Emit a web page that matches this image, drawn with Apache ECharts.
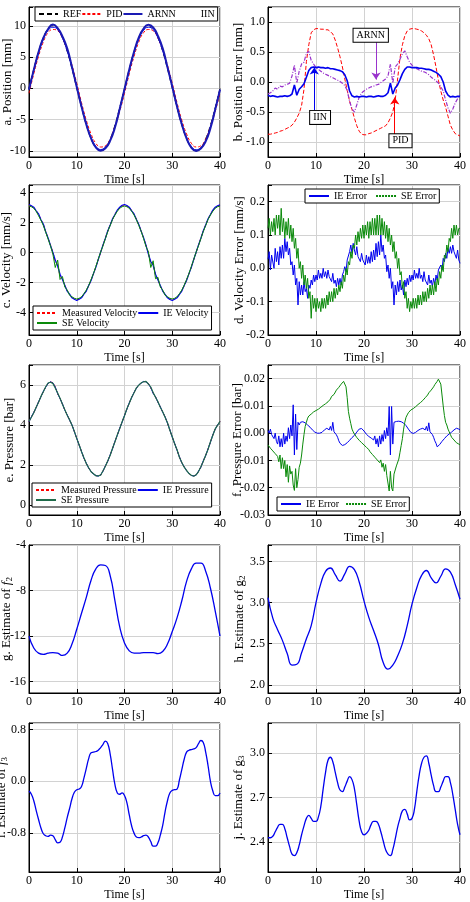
<!DOCTYPE html>
<html lang="en">
<head>
	<meta charset="UTF-8">
	<title>Estimation results</title>
</head>
<style>
	body{ margin: 0; background: #fff; }
	#main{ width: 470px; height: 902px; }
</style>
<body>
	<div id="main"></div>
	<script src="https://cdn.jsdelivr.net/npm/echarts@6.0.0/dist/echarts.min.js"></script>
	<script>
	// a. position, sampled every 1 s
	var posRef = [0, 3.09, 5.88, 8.09, 9.51, 10, 9.51, 8.09, 5.88, 3.09, 0, -3.09, -5.88, -8.09, -9.51, -10, -9.51, -8.09, -5.88, -3.09, 0, 3.09, 5.88, 8.09, 9.51, 10, 9.51, 8.09, 5.88, 3.09, 0, -3.09, -5.88, -8.09, -9.51, -10, -9.51, -8.09, -5.88, -3.09, 0];
	var posPid = [-0.8, 2.3, 5.1, 7.4, 8.9, 9.4, 9.2, 8.0, 6.1, 3.7, 0.8, -2.3, -5.1, -7.3, -8.8, -9.4, -9.2, -8.1, -6.1, -3.7, -0.8, 2.3, 5.1, 7.4, 8.9, 9.4, 9.2, 8.0, 6.1, 3.7, 0.8, -2.3, -5.1, -7.3, -8.8, -9.4, -9.2, -8.1, -6.1, -3.7, -0.8];
	var posArnn = [-0.2, 2.94, 5.8, 8.04, 9.48, 10.2, 9.61, 8.31, 6.38, 3.39, 0.2, -2.94, -5.78, -8.01, -9.48, -10, -9.61, -8.39, -6.28, -3.29, -0.14, 3.0, 5.84, 8.12, 9.55, 10.15, 9.75, 8.39, 6.38, 3.37, 0.28, -2.92, -5.76, -8.03, -9.51, -10.03, -9.63, -8.5, -6.38, -3.4, -0.22];
	var posIin = [-0.24, 2.85, 5.64, 7.85, 9.27, 9.76, 9.37, 8.03, 5.96, 3.31, 0.24, -2.85, -5.64, -7.85, -9.28, -9.8, -9.4, -8.29, -6.12, -3.33, -0.24, 2.85, 5.64, 7.85, 9.27, 9.76, 9.4, 8.06, 5.99, 3.33, 0.24, -2.85, -5.64, -7.86, -9.3, -9.84, -9.49, -8.33, -6.13, -3.33, -0.24];

	// b. position error, every 0.5 s
	var errPid = [-0.87, -0.87, -0.86, -0.85, -0.84, -0.82, -0.81, -0.79, -0.77, -0.75,
		-0.72, -0.67, -0.6, -0.52, -0.39, -0.12, 0.34, 0.62, 0.82, 0.87,
		0.89, 0.89, 0.88, 0.88, 0.87, 0.87, 0.84, 0.8, 0.7, 0.57,
		0.42, 0.25, 0.05, -0.14, -0.32, -0.46, -0.6, -0.73, -0.82, -0.87,
		-0.88, -0.88, -0.86, -0.85, -0.83, -0.81, -0.79, -0.77, -0.75, -0.73,
		-0.68, -0.6, -0.5, -0.3, 0.05, 0.4, 0.62, 0.77, 0.85, 0.88,
		0.89, 0.89, 0.88, 0.87, 0.85, 0.82, 0.78, 0.72, 0.62, 0.45,
		0.25, 0.03, -0.15, -0.3, -0.42, -0.57, -0.72, -0.8, -0.86, -0.88,
		-0.9];
	var errArnn = [-0.2, -0.18, -0.15, -0.1, -0.12, -0.07, -0.08, -0.05, -0.04, -0.02,
		0.1, 0.28, -0.02, 0.18, 0.3, 0.33, 0.48, 0.51, 0.36, 0.3,
		0.24, 0.21, 0.18, 0.15, 0.13, 0.11, 0.09, 0.07, 0.05, 0.03,
		0.01, -0.02, -0.06, -0.14, -0.32, -0.45, -0.5, -0.38, -0.25, -0.18,
		-0.15, -0.12, -0.1, -0.08, -0.07, -0.05, -0.04, -0.01, 0.02, 0.05,
		0.1, 0.3, -0.02, 0.25, 0.3, 0.38, 0.47, 0.52, 0.42, 0.33,
		0.28, 0.24, 0.22, 0.2, 0.18, 0.17, 0.15, 0.12, 0.08, 0.05,
		0.02, -0.02, -0.08, -0.15, -0.3, -0.43, -0.52, -0.45, -0.35, -0.28,
		-0.22];
	var errIin = [-0.22, -0.24, -0.23, -0.24, -0.25, -0.24, -0.24, -0.23, -0.24, -0.23,
		-0.2, -0.05, -0.22, -0.12, -0.08, -0.03, 0.08, 0.19, 0.24, 0.25,
		0.24, 0.25, 0.24, 0.24, 0.23, 0.24, 0.22, 0.22, 0.21, 0.2,
		0.19, 0.17, 0.12, 0.02, -0.15, -0.23, -0.25, -0.24, -0.25, -0.24,
		-0.24, -0.25, -0.24, -0.24, -0.25, -0.24, -0.23, -0.24, -0.24, -0.22,
		-0.18, -0.02, -0.2, -0.1, -0.05, 0.04, 0.14, 0.21, 0.25, 0.25,
		0.24, 0.24, 0.24, 0.23, 0.23, 0.22, 0.21, 0.21, 0.2, 0.18,
		0.16, 0.13, 0.09, 0.0, -0.15, -0.22, -0.25, -0.24, -0.25, -0.24,
		-0.24];

	// c. velocity, every 0.5 s
	var velMeas = [3.15, 3.1, 3.0, 2.8, 2.55, 2.2, 1.88, 1.4, 0.95, 0.5, 0.02, -0.6, -0.8, -1.6, -1.75, -2.2, -2.55, -2.8, -3.0, -3.1,
		-3.15, -3.1, -3.0, -2.8, -2.55, -2.22, -1.85, -1.43, -0.97, -0.49, 0, 0.49, 0.97, 1.43, 1.85, 2.23, 2.55, 2.81, 3.0, 3.11,
		3.15, 3.1, 3.0, 2.8, 2.55, 2.22, 1.85, 1.43, 0.97, 0.5, -0.05, -0.7, -0.75, -1.5, -1.8, -2.23, -2.55, -2.81, -3.0, -3.1,
		-3.15, -3.1, -3.0, -2.8, -2.55, -2.22, -1.85, -1.43, -0.97, -0.49, 0, 0.49, 0.97, 1.43, 1.85, 2.23, 2.55, 2.81, 3.0, 3.1,
		3.15];
	var velIE = [3.2, 3.12, 3.02, 2.78, 2.58, 2.18, 1.9, 1.38, 0.97, 0.47, 0.0, -0.5, -0.9, -1.45, -1.8, -2.18, -2.58, -2.78, -3.02, -3.12,
		-3.2, -3.12, -3.02, -2.78, -2.57, -2.2, -1.87, -1.41, -0.99, -0.47, 0.02, 0.51, 0.95, 1.45, 1.83, 2.25, 2.53, 2.83, 3.02, 3.15,
		3.2, 3.13, 3.02, 2.78, 2.57, 2.2, 1.87, 1.41, 0.99, 0.48, -0.1, -0.6, -0.85, -1.45, -1.83, -2.2, -2.57, -2.79, -3.02, -3.13,
		-3.2, -3.12, -3.02, -2.79, -2.57, -2.2, -1.87, -1.41, -0.99, -0.47, 0.02, 0.51, 0.95, 1.45, 1.83, 2.25, 2.53, 2.83, 3.02, 3.12,
		3.18];
	var velSE = [3.1, 3.05, 2.95, 2.75, 2.45, 2.15, 1.8, 1.35, 0.9, 0.45, -0.1, -1.0, -0.5, -1.8, -1.6, -2.3, -2.5, -2.85, -2.95, -3.05,
		-3.1, -3.05, -2.95, -2.75, -2.5, -2.2, -1.8, -1.4, -0.93, -0.45, 0.03, 0.45, 0.93, 1.4, 1.8, 2.2, 2.5, 2.75, 2.95, 3.05,
		3.1, 3.05, 2.95, 2.75, 2.5, 2.18, 1.8, 1.4, 0.92, 0.4, 0.05, -1.0, -0.55, -1.75, -1.65, -2.3, -2.5, -2.85, -2.95, -3.05,
		-3.1, -3.05, -2.95, -2.75, -2.5, -2.18, -1.8, -1.4, -0.93, -0.45, 0.03, 0.45, 0.93, 1.4, 1.8, 2.2, 2.5, 2.75, 2.95, 3.05,
		3.1];

	// d. velocity error, every 0.25 s (one row per second)
	var velErrIE = [0.027, 0.05, -0.005, 0.04, 0.035, 0.0, 0.06, 0.02, 0.05, 0.01, 0.065, 0.03, 0.07, 0.03, 0.09, 0.05,
		0.08, 0.04, 0.06, 0.01, 0.02, -0.02, 0.01, -0.05, -0.03, -0.11, -0.04, -0.08, -0.05, -0.08, -0.04, -0.07,
		-0.06, -0.09, -0.05, -0.06, -0.035, -0.05, -0.02, -0.04, -0.02, -0.035, -0.005, -0.03, -0.015, -0.03, 0.0, -0.025,
		-0.01, -0.03, -0.005, -0.025, -0.02, -0.04, -0.015, -0.045, -0.035, -0.055, -0.03, -0.05, -0.03, -0.05, -0.02, -0.01,
		0.005, -0.01, 0.025, 0.03, 0.05, 0.07, 0.045, 0.075, 0.055, 0.04, 0.065, 0.035, 0.04, 0.02, 0.045, 0.025,
		0.03, 0.01, 0.04, 0.015, 0.035, 0.015, 0.05, 0.02, 0.055, 0.025, 0.075, 0.035, 0.08, 0.04, 0.1, 0.05,
		0.07, 0.03, 0.04, -0.01, 0.01, -0.03, 0.0, -0.06, -0.04, -0.11, -0.05, -0.08, -0.04, -0.07, -0.035, -0.065,
		-0.05, -0.08, -0.035, -0.055, -0.03, -0.05, -0.02, -0.04, -0.02, -0.035, -0.005, -0.03, -0.015, -0.03, 0.0, -0.03,
		-0.02, -0.04, -0.01, -0.035, -0.03, -0.05, -0.02, -0.045, -0.035, -0.055, -0.03, -0.05, -0.02, -0.035, -0.005, 0.0,
		0.01, -0.005, 0.03, 0.02, 0.045, 0.03, 0.06, 0.045, 0.065, 0.045, 0.07, 0.05, 0.05, 0.03, 0.055, 0.025,
		0.015];
	var velErrSE = [0.12, 0.15, 0.1, 0.14, 0.11, 0.15, 0.1, 0.16, 0.12, 0.16, 0.1, 0.18, 0.11, 0.15, 0.09, 0.14,
		0.1, 0.15, 0.09, 0.13, 0.08, 0.12, 0.06, 0.09, 0.03, 0.06, 0.0, 0.02, -0.03, 0.01, -0.05, -0.02,
		-0.06, -0.03, -0.09, -0.07, -0.15, -0.08, -0.12, -0.09, -0.13, -0.09, -0.12, -0.1, -0.13, -0.09, -0.12, -0.09,
		-0.12, -0.08, -0.11, -0.07, -0.1, -0.07, -0.1, -0.06, -0.09, -0.06, -0.08, -0.05, -0.07, -0.04, -0.06, -0.02,
		-0.04, 0.0, -0.02, 0.02, 0.01, 0.05, 0.03, 0.07, 0.06, 0.1, 0.07, 0.11, 0.08, 0.12, 0.09, 0.13,
		0.09, 0.13, 0.1, 0.14, 0.09, 0.14, 0.1, 0.15, 0.1, 0.15, 0.1, 0.16, 0.1, 0.16, 0.1, 0.15,
		0.1, 0.14, 0.09, 0.13, 0.08, 0.12, 0.07, 0.1, 0.05, 0.08, 0.03, 0.05, 0.0, 0.03, -0.02, -0.01,
		-0.06, -0.04, -0.09, -0.07, -0.12, -0.09, -0.13, -0.1, -0.12, -0.09, -0.12, -0.09, -0.12, -0.08, -0.11, -0.08,
		-0.11, -0.07, -0.1, -0.07, -0.1, -0.06, -0.09, -0.05, -0.08, -0.05, -0.08, -0.04, -0.07, -0.03, -0.05, -0.01,
		-0.03, 0.01, -0.01, 0.04, 0.03, 0.07, 0.05, 0.09, 0.08, 0.12, 0.09, 0.13, 0.1, 0.13, 0.1, 0.12,
		0.12];

	// e. pressure, every 0.5 s
	var presMeas = [4.17, 4.4, 4.62, 4.88, 5.15, 5.42, 5.67, 5.9, 6.08, 6.15, 6.12, 5.92, 5.55, 5.33, 5.05, 4.75, 4.5, 4.25, 4.0, 3.67,
		3.33, 3.0, 2.67, 2.35, 2.08, 1.85, 1.67, 1.55, 1.47, 1.45, 1.5, 1.7, 1.95, 2.2, 2.5, 2.83, 3.17, 3.5, 3.83, 4.15,
		4.47, 4.8, 5.1, 5.38, 5.62, 5.85, 6.0, 6.1, 6.17, 6.17, 6.08, 5.85, 5.6, 5.4, 5.15, 4.9, 4.65, 4.4, 4.1, 3.75,
		3.4, 3.07, 2.75, 2.4, 2.12, 1.9, 1.72, 1.58, 1.48, 1.45, 1.5, 1.68, 1.9, 2.2, 2.48, 2.8, 3.15, 3.5, 3.8, 4.0,
		4.17];
	var presIE = [4.16, 4.41, 4.63, 4.87, 5.16, 5.41, 5.68, 5.89, 6.08, 6.16, 6.1, 5.9, 5.57, 5.32, 5.06, 4.74, 4.51, 4.24, 4.01, 3.66,
		3.34, 2.99, 2.68, 2.34, 2.09, 1.84, 1.68, 1.54, 1.48, 1.44, 1.51, 1.69, 1.96, 2.19, 2.51, 2.82, 3.18, 3.49, 3.84, 4.14,
		4.48, 4.79, 5.11, 5.37, 5.63, 5.84, 6.01, 6.09, 6.18, 6.16, 6.06, 5.87, 5.58, 5.41, 5.14, 4.91, 4.64, 4.41, 4.09, 3.76,
		3.39, 3.08, 2.74, 2.41, 2.11, 1.91, 1.71, 1.59, 1.47, 1.46, 1.49, 1.69, 1.89, 2.21, 2.47, 2.81, 3.14, 3.51, 3.79, 4.01,
		4.16];
	var presSE = [4.18, 4.39, 4.61, 4.89, 5.14, 5.43, 5.66, 5.91, 6.1, 6.14, 6.08, 5.85, 5.6, 5.34, 5.04, 4.76, 4.49, 4.26, 3.99, 3.68,
		3.32, 3.01, 2.66, 2.36, 2.07, 1.86, 1.66, 1.56, 1.46, 1.46, 1.49, 1.71, 1.94, 2.21, 2.49, 2.84, 3.16, 3.51, 3.82, 4.16,
		4.46, 4.81, 5.09, 5.39, 5.61, 5.86, 5.99, 6.11, 6.16, 6.18, 6.05, 5.9, 5.62, 5.39, 5.16, 4.89, 4.66, 4.39, 4.11, 3.74,
		3.41, 3.06, 2.76, 2.39, 2.13, 1.89, 1.73, 1.57, 1.49, 1.44, 1.51, 1.67, 1.91, 2.19, 2.49, 2.79, 3.16, 3.49, 3.81, 3.99,
		4.18];

	// f. pressure error, every 0.25 s
	var presErrIE = [0.001, 0.0, 0.0015, -0.0005, -0.001, -0.002, 0.0, -0.003, -0.004, -0.001, -0.005, -0.002, -0.005, 0.0, -0.004, -0.001,
		-0.003, 0.002, -0.002, 0.003, -0.001, 0.0104, -0.008, 0.007, -0.006, 0.004, 0.003, 0.004, 0.004, 0.0042, 0.004, 0.0038,
		0.0035, 0.003, 0.0027, 0.0022, 0.0018, 0.0012, 0.0008, 0.0004, 0.0002, 0.0, 0.0, 0.0, 0.0, 0.0003, 0.0007, 0.0012,
		0.0015, 0.0018, 0.002, 0.0012, 0.0025, 0.001, 0.004, 0.0005, 0.0002, -0.0006, -0.0015, -0.0028, -0.0037, -0.0042, -0.0045, -0.0044,
		-0.0042, -0.004, -0.0035, -0.003, -0.0026, -0.0022, -0.0016, -0.0012, -0.0008, -0.0002, 0.0004, 0.001, 0.0015, 0.0018, 0.0017, 0.0014,
		0.0008, 0.0002, -0.0004, -0.001, -0.0012, -0.0015, -0.0018, -0.0022, -0.0025, -0.001, -0.004, -0.002, -0.005, -0.001, -0.004, -0.0005,
		-0.003, 0.001, -0.002, 0.002, -0.001, 0.0098, -0.008, 0.0098, -0.004, 0.004, 0.0035, 0.0043, 0.0043, 0.0044, 0.0043, 0.0042,
		0.004, 0.0037, 0.0033, 0.0028, 0.0022, 0.0015, 0.0008, 0.0003, 0.0, -0.0001, 0.0, 0.0003, 0.0006, 0.001, 0.0013, 0.0015,
		0.0016, 0.0018, 0.002, 0.0012, 0.0025, 0.0008, 0.0038, 0.0005, 0.0006, -0.0005, -0.0015, -0.0028, -0.0037, -0.005, -0.0048, -0.0042,
		-0.0036, -0.003, -0.0025, -0.002, -0.0015, -0.001, -0.0006, -0.0003, 0.0, 0.0004, 0.0008, 0.0012, 0.0016, 0.0018, 0.0017, 0.0015,
		0.0012];
	var presErrSE = [-0.0043, -0.005, -0.0055, -0.006, -0.0065, -0.007, -0.0075, -0.008, -0.0085, -0.0105, -0.008, -0.013, -0.009, -0.013, -0.01, -0.016,
		-0.0115, -0.018, -0.012, -0.015, -0.014, -0.019, -0.021, -0.013, -0.02, -0.017, -0.0125, -0.011, -0.008, -0.004, -0.0005, 0.0025,
		0.004, 0.0055, 0.0063, 0.0067, 0.007, 0.0075, 0.0078, 0.008, 0.0083, 0.0086, 0.0088, 0.009, 0.0095, 0.0098, 0.0102, 0.0104,
		0.0108, 0.011, 0.0115, 0.0122, 0.0125, 0.0135, 0.013, 0.0142, 0.0148, 0.0158, 0.016, 0.0168, 0.0172, 0.018, 0.0186, 0.019,
		0.0192, 0.017, 0.013, 0.008, 0.0055, 0.0035, 0.0015, 0.0005, -0.0003, -0.001, -0.0016, -0.0022, -0.0026, -0.003, -0.0035, -0.004,
		-0.0043, -0.0048, -0.0052, -0.0058, -0.006, -0.0068, -0.007, -0.0078, -0.008, -0.0088, -0.009, -0.0098, -0.0092, -0.0108, -0.0098, -0.0125,
		-0.011, -0.014, -0.0115, -0.0155, -0.016, -0.0212, -0.014, -0.02, -0.0212, -0.015, -0.0135, -0.012, -0.0116, -0.0095, -0.007, -0.0045,
		-0.002, 0.0015, 0.004, 0.0058, 0.0067, 0.0075, 0.008, 0.0085, 0.0088, 0.009, 0.0093, 0.0097, 0.01, 0.0105, 0.0108, 0.0112,
		0.0115, 0.012, 0.0125, 0.013, 0.0135, 0.014, 0.0148, 0.0152, 0.0158, 0.0165, 0.017, 0.0178, 0.0184, 0.019, 0.0198, 0.0202,
		0.018, 0.014, 0.01, 0.0065, 0.004, 0.003, 0.0015, 0.0005, -0.0005, -0.0015, -0.002, -0.0025, -0.003, -0.0035, -0.0037, -0.004,
		-0.0043];

	// g, h every 1 s; i, j every 0.5 s
	var estF2 = [-12, -13.05, -13.5, -13.6, -13.5, -13.45, -13.5, -13.7, -13.5, -12.7, -11.4, -10.0, -8.6, -7.1, -6.1, -5.75, -5.8, -6.7, -8.9, -11.2,
		-12.6, -13.3, -13.5, -13.5, -13.45, -13.45, -13.45, -13.55, -13.35, -12.7, -11.6, -10.4, -8.9, -7.2, -6.1, -5.6, -5.6, -6.3, -7.8, -9.8, -12];
	var estG2 = [3.06, 2.81, 2.67, 2.54, 2.38, 2.24, 2.25, 2.39, 2.56, 2.72, 3.0, 3.23, 3.38, 3.42, 3.34, 3.26, 3.35, 3.44, 3.4, 3.25,
		3.02, 2.82, 2.66, 2.49, 2.27, 2.19, 2.24, 2.35, 2.5, 2.72, 2.98, 3.18, 3.33, 3.39, 3.3, 3.24, 3.32, 3.41, 3.37, 3.22, 3.04];
	var estF3 = [-0.15, -0.2, -0.3, -0.45, -0.59, -0.72, -0.81, -0.84, -0.85, -0.83,
		-0.84, -0.9, -0.95, -0.94, -0.86, -0.72, -0.56, -0.42, -0.27, -0.17,
		-0.13, -0.12, -0.08, 0.05, 0.2, 0.35, 0.44, 0.45, 0.46, 0.48,
		0.52, 0.57, 0.62, 0.58, 0.42, 0.18, -0.05, -0.18, -0.2, -0.18,
		-0.22, -0.33, -0.52, -0.69, -0.8, -0.86, -0.87, -0.86, -0.84, -0.83,
		-0.86, -0.93, -1.0, -1.0, -0.95, -0.83, -0.68, -0.47, -0.3, -0.18,
		-0.14, -0.13, -0.12, 0.02, 0.18, 0.34, 0.45, 0.48, 0.49, 0.5,
		0.52, 0.58, 0.63, 0.6, 0.45, 0.24, 0.0, -0.15, -0.22, -0.22,
		-0.18];
	var estG3 = [2.43, 2.43, 2.44, 2.47, 2.5, 2.52, 2.52, 2.49, 2.43, 2.37,
		2.32, 2.31, 2.33, 2.38, 2.45, 2.51, 2.56, 2.58, 2.56, 2.54,
		2.54, 2.57, 2.64, 2.76, 2.87, 2.95, 2.97, 2.94, 2.87, 2.8,
		2.75, 2.74, 2.77, 2.81, 2.84, 2.82, 2.76, 2.65, 2.54, 2.47,
		2.45, 2.46, 2.48, 2.52, 2.54, 2.54, 2.52, 2.47, 2.41, 2.35,
		2.32, 2.31, 2.35, 2.42, 2.5, 2.56, 2.61, 2.62, 2.59, 2.55,
		2.56, 2.62, 2.74, 2.85, 2.93, 2.97, 2.98, 2.93, 2.85, 2.78,
		2.74, 2.74, 2.77, 2.81, 2.84, 2.84, 2.8, 2.72, 2.62, 2.52,
		2.45];

	// text boxes and arrows of panel b: [label, x, y] and [x, yFrom, yTo]
	var boxNotes = [['ARNN', 21.4, 0.78], ['IIN', 10.85, -0.59], ['PID', 27.6, -0.98]];
	var arrowNotes = [[22.5, 0.66, 0.04], [9.65, -0.51, 0.24], [26.4, -0.87, -0.26]];

	var FONT = "'Liberation Serif','Times New Roman',serif";
	var myChart = echarts.init(document.getElementById('main'));

	function pts(vals, step) {
		return vals.map(function (v, i) { return [+(i * step).toFixed(2), v]; });
	}

	// panel layout: column, row, y range, tick step, decimals, y name, name gap
	var colLeft = [29, 268], colWidth = [191, 192];
	var rowTop = [7, 185, 365, 545, 723], rowHeight = [150, 150, 150, 148, 149];
	var panels = [
		{c: 0, r: 0, min: -11, max: 13, iv: 5, dec: 0, name: 'a. Position [mm]', gap: 15},
		{c: 1, r: 0, min: -1.25, max: 1.25, iv: 0.5, dec: 1, name: 'b. Position Error [mm]', gap: 23},
		{c: 0, r: 1, min: -5.5, max: 4.5, iv: 2, dec: 0, name: 'c. Velocity [mm/s]', gap: 16},
		{c: 1, r: 1, min: -0.2, max: 0.25, iv: 0.1, dec: 1, name: 'd. Velocity Error [mm/s]', gap: 22},
		{c: 0, r: 2, min: -0.5, max: 7, iv: 2, dec: 0, name: 'e. Pressure [bar]', gap: 13},
		{c: 1, r: 2, min: -0.03, max: 0.025, iv: 0.01, dec: 2, name: 'f. Pressure Error [bar]', gap: 24},
		{c: 0, r: 3, min: -17, max: -4, iv: 4, dec: 0, name: 'g. Estimate of {it|f}{sub|2}', gap: 15},
		{c: 1, r: 3, min: 1.9, max: 3.7, iv: 0.5, dec: 1, name: 'h. Estimate of g{sub|2}', gap: 21},
		{c: 0, r: 4, min: -1.4, max: 0.9, iv: 0.8, dec: 1, name: 'i. Estimate of {it|f}{sub|3}', gap: 20},
		{c: 1, r: 4, min: 2.2, max: 3.2, iv: 0.3, dec: 1, name: 'j. Estimate of g{sub|3}', gap: 22}
	];

	var grids = [], xAxes = [], yAxes = [];
	panels.forEach(function (p, i) {
		grids.push({
			left: colLeft[p.c], top: rowTop[p.r], width: colWidth[p.c], height: rowHeight[p.r],
			show: true, borderColor: '#000', borderWidth: 1, containLabel: false, outerBoundsMode: 'none'
		});
		xAxes.push({
			type: 'value', gridIndex: i, min: 0, max: 40, interval: 10,
			name: 'Time [s]', nameLocation: 'middle', nameGap: 17, nameMoveOverlap: false,
			nameTextStyle: {fontFamily: FONT, fontSize: 12, color: '#000'},
			axisLine: {onZero: false, lineStyle: {color: '#000'}},
			axisTick: {inside: true, length: 4, lineStyle: {color: '#000'}},
			axisLabel: {fontFamily: FONT, fontSize: 12, color: '#000', margin: 3, hideOverlap: false},
			splitLine: {lineStyle: {color: '#d2d2d2'}}
		});
		yAxes.push({
			type: 'value', gridIndex: i, min: p.min, max: p.max,
			// fixed step but ticks still on multiples of it
			minInterval: p.iv, maxInterval: p.iv,
			name: p.name, nameLocation: 'middle', nameGap: p.gap, nameMoveOverlap: false,
			nameTextStyle: {
				fontFamily: FONT, fontSize: 13, color: '#000',
				rich: {
					it: {fontFamily: FONT, fontSize: 13, fontStyle: 'italic', color: '#000'},
					sub: {fontFamily: FONT, fontSize: 9, color: '#000', padding: [6, 0, 0, 0]}
				}
			},
			axisLine: {onZero: false, lineStyle: {color: '#000'}},
			axisTick: {inside: true, length: 4, lineStyle: {color: '#000'}},
			axisLabel: {
				fontFamily: FONT, fontSize: 12, color: '#000', margin: 3, hideOverlap: false,
				formatter: function (v) {
					var k = v / p.iv;
					if (Math.abs(k - Math.round(k)) > 1e-6) return '';
					return (Math.round(k) * p.iv).toFixed(p.dec);
				}
			},
			splitLine: {lineStyle: {color: '#d2d2d2'}}
		});
	});

	function line(name, g, data, color, width, type, smooth) {
		return {
			type: 'line', name: name, xAxisIndex: g, yAxisIndex: g, data: data,
			symbol: 'none', smooth: !!smooth, animation: false,
			itemStyle: {color: color},
			lineStyle: {color: color, width: width, type: type || 'solid'}
		};
	}

	var BLUE = '#0000ee', GREEN = '#0a8a0a', RED = '#ff0000', PURPLE = '#9933cc';

	var series = [
		line('REF', 0, pts(posRef, 1), '#000', 1, [5, 3], true),
		line('PID', 0, pts(posPid, 1), RED, 1, [3, 2], true),
		line('IIN', 0, pts(posIin, 1), BLUE, 1, 'solid', true),
		line('ARNN', 0, pts(posArnn, 1), '#1a1ab4', 2, 'solid', true),

		line('PID err', 1, pts(errPid, 0.5), RED, 1, [4, 2]),
		line('ARNN err', 1, pts(errArnn, 0.5), PURPLE, 1.2, [4, 1.5, 1, 1.5]),
		line('IIN err', 1, pts(errIin, 0.5), BLUE, 1.6),

		line('Measured Velocity', 2, pts(velMeas, 0.5), RED, 1, [3, 2]),
		line('IE Velocity', 2, pts(velIE, 0.5), BLUE, 1.2),
		line('SE Velocity', 2, pts(velSE, 0.5), GREEN, 1),

		line('IE Error', 3, pts(velErrIE, 0.25), BLUE, 1),
		line('SE Error', 3, pts(velErrSE, 0.25), GREEN, 1),

		line('Measured Pressure', 4, pts(presMeas, 0.5), RED, 1, [3, 2]),
		line('IE Pressure', 4, pts(presIE, 0.5), BLUE, 1),
		line('SE Pressure', 4, pts(presSE, 0.5), '#1f6b4a', 1.2),

		line('IE Error', 5, pts(presErrIE, 0.25), BLUE, 1),
		line('SE Error', 5, pts(presErrSE, 0.25), GREEN, 1),

		line('f2', 6, pts(estF2, 1), BLUE, 1.3, 'solid', true),
		line('g2', 7, pts(estG2, 1), BLUE, 1.3, 'solid', true),
		line('f3', 8, pts(estF3, 0.5), BLUE, 1.3, 'solid', true),
		line('g3', 9, pts(estG3, 0.5), BLUE, 1.3, 'solid', true)
	];

	// annotations of panel b, one per series
	var noteColor = [PURPLE, BLUE, RED];
	var noteSeries = [5, 6, 4];
	boxNotes.forEach(function (n, k) {
		var s = series[noteSeries[k]];
		var a = arrowNotes[k];
		s.markLine = {
			silent: true, symbol: ['none', 'arrow'], symbolSize: 7, animation: false,
			label: {show: false},
			lineStyle: {color: noteColor[k], width: 1, type: 'solid'},
			data: [[{coord: [a[0], a[1]]}, {coord: [a[0], a[2]]}]]
		};
		s.markPoint = {
			silent: true, symbol: 'rect', symbolSize: 1, animation: false,
			itemStyle: {color: 'rgba(0,0,0,0)'},
			label: {
				show: true, position: 'inside', formatter: n[0],
				fontFamily: FONT, fontSize: 10, color: '#000',
				backgroundColor: '#fff', borderColor: '#000', borderWidth: 1, padding: [2, 3, 1, 3]
			},
			data: [{coord: [n[1], n[2]]}]
		};
	});

	function legend(left, top, width, data, gap, iw) {
		return {
			left: left, top: top, width: width, orient: 'horizontal',
			padding: [2, 3], itemGap: gap, itemWidth: iw || 20, itemHeight: 10,
			backgroundColor: '#fff', borderColor: '#000', borderWidth: 1, borderRadius: 0,
			selectedMode: false,
			itemStyle: {opacity: 0},
			textStyle: {fontFamily: FONT, fontSize: 10, color: '#000'},
			data: data
		};
	}

	var option = {
		animation: false,
		grid: grids,
		xAxis: xAxes,
		yAxis: yAxes,
		legend: [
			legend(35, 7, 240, ['REF', 'PID', 'ARNN', {name: 'IIN', lineStyle: {opacity: 0}}], 0, 19),
			legend(33, 306, 180, ['Measured Velocity', 'IE Velocity', 'SE Velocity'], 0),
			legend(305, 189, 160, ['IE Error', {name: 'SE Error', lineStyle: {type: [2, 1]}}], 8),
			legend(32, 483, 186, ['Measured Pressure', 'IE Pressure', 'SE Pressure'], 0),
			legend(277, 497, 160, ['IE Error', {name: 'SE Error', lineStyle: {type: [2, 1]}}], 6)
		],
		series: series
	};
	myChart.setOption(option);
	</script>
</body>
</html>
